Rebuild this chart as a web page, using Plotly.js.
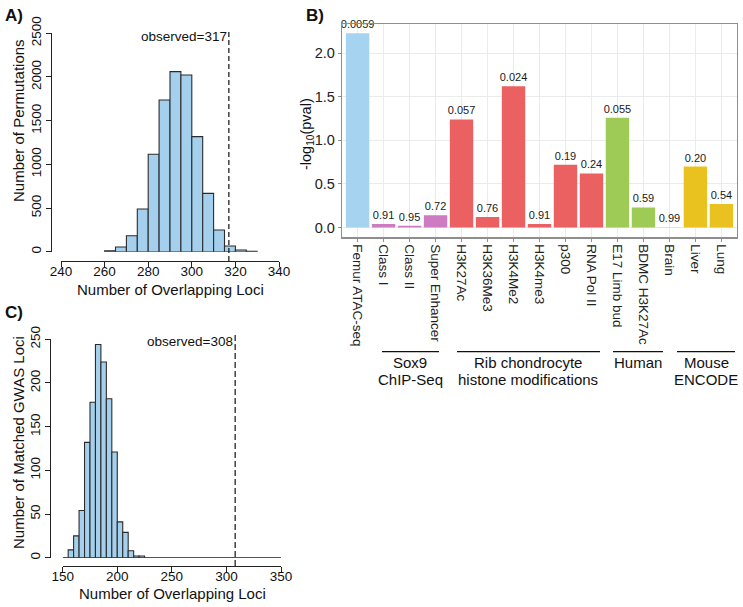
<!DOCTYPE html>
<html><head><meta charset="utf-8">
<script src="https://cdn.plot.ly/plotly-3.0.1.min.js"></script>
<style>html,body{margin:0;padding:0;background:#fff}#chart{width:743px;height:607px}</style>
</head><body><div id="chart"></div>
<script>
// ---------- Panel A data ----------
const binStartsA = [260,265,270,275,280,285,290,295,300,305,310,315,320,325];
const countsA    = [11,53,183,489,1115,1737,2061,2023,1317,668,248,65,19,4];
const binWidthA  = 5;
const observedA  = 317;
const xTicksA    = [240,260,280,300,320,340];
const yTicksA    = [0,500,1000,1500,2000,2500];

// ---------- Panel C data ----------
const binStartsC = [150,155,160,165,170,175,180,185,190,195,200,205,210,215,220,225,230,235,240,245,
                    250,255,260,265,270,275,280,285,290,295,300,305,310,315,320,325,330,335,340,345];
const countsC    = [0,9,25,54,132,178,244,224,182,121,41,29,8,2,2,0,0,0,0,0,
                    0,0,0,0,0,0,0,0,0,0,0,0,0,0,0,0,0,0,0,0];
const binWidthC  = 5;
const observedC  = 308;
const xTicksC    = [150,200,250,300,350];
const yTicksC    = [0,50,100,150,200,250];

// ---------- Panel B data ----------
const categoriesB = ['Femur ATAC-seq','Class I','Class II','Super Enhancer','H3K27Ac','H3K36Me3','H3K4Me2',
                     'H3K4me3','p300','RNA Pol II','E17 Limb bud','BDMC H3K27Ac','Brain','Liver','Lung'];
const negLog10P   = [2.23,0.04,0.02,0.14,1.24,0.12,1.62,0.04,0.72,0.62,1.26,0.23,0.004,0.70,0.27];
const pValLabels  = ['0.0059','0.91','0.95','0.72','0.057','0.76','0.024','0.91','0.19','0.24','0.055','0.59','0.99','0.20','0.54'];
const groupB      = ['Femur','Sox9','Sox9','Sox9','Rib','Rib','Rib','Rib','Rib','Rib','Human','Human','Mouse','Mouse','Mouse'];
const yTicksB     = [0,0.5,1,1.5,2];
const yTickTextB  = ['0.0','0.5','1.0','1.5','2.0'];

// ---------- styles / layout helpers ----------
const W = 743, H = 607;
const px = v => v / W;
const py = v => 1 - v / H;
const FONT = 'Liberation Sans, Arial, Helvetica, sans-serif';
const groupColors = {Femur:'#a5d3f0', Sox9:'#cd7bc2', Rib:'#eb6161', Human:'#9ecb56', Mouse:'#eac21f'};
const histFill = '#a4d0ed', histLine = '#2b2b2b', axisCol = '#222';
const bracketDefs = [
  {x0:382, x1:439, xc:410, lines:['Sox9','ChIP-Seq']},
  {x0:457, x1:600, xc:528, lines:['Rib chondrocyte','histone modifications']},
  {x0:613, x1:663, xc:638, lines:['Human']},
  {x0:677, x1:735, xc:706, lines:['Mouse','ENCODE']}
];
const bracketLineY = [362, 379.5];

const traces = [
  {type:'bar', x:binStartsA, y:countsA, width:binWidthA, offset:0, xaxis:'x', yaxis:'y',
   marker:{color:histFill, line:{color:histLine, width:1.1}}, hoverinfo:'skip'},
  {type:'bar', x:binStartsC, y:countsC, width:binWidthC, offset:0, xaxis:'x3', yaxis:'y3',
   marker:{color:histFill, line:{color:histLine, width:1.1}}, hoverinfo:'skip'},
  {type:'bar', x:categoriesB, y:negLog10P, width:0.9, xaxis:'x2', yaxis:'y2',
   marker:{color:groupB.map(g => groupColors[g])},
   text:pValLabels, textposition:'outside', constraintext:'none', cliponaxis:false,
   textfont:{size:11, color:'#1a1a1a', family:FONT}, hoverinfo:'skip'}
];

const baseAxis = {showgrid:false, zeroline:false, showline:true, linecolor:axisCol, linewidth:1,
                  ticks:'outside', ticklen:5, tickcolor:axisCol, tickwidth:1,
                  tickfont:{size:13.5, color:'#111', family:FONT}, fixedrange:true};

const bracketAnn = [];
bracketDefs.forEach(b => b.lines.forEach((t, i) => bracketAnn.push({
  text:t, xref:'paper', yref:'paper', x:px(b.xc), y:py(bracketLineY[i]),
  xanchor:'center', yanchor:'middle', showarrow:false, font:{size:15, color:'#111'}})));

const layout = {
  width:W, height:H, margin:{l:0,r:0,t:0,b:0}, paper_bgcolor:'#fff', plot_bgcolor:'rgba(0,0,0,0)',
  showlegend:false, font:{family:FONT, color:'#111'},
  xaxis: Object.assign({}, baseAxis, {domain:[px(61), px(279)], range:[240,340], anchor:'free',
          position:py(261), tickvals:xTicksA, ticklabelstandoff:-7}),
  yaxis: Object.assign({}, baseAxis, {domain:[py(251.7), py(33.3)], range:[0,2500], anchor:'free',
          position:px(51), tickvals:yTicksA, tickangle:-90}),
  xaxis3: Object.assign({}, baseAxis, {domain:[px(62.7), px(281)], range:[150,350], anchor:'free',
          position:py(565.7), tickvals:xTicksC, ticklabelstandoff:-7}),
  yaxis3: Object.assign({}, baseAxis, {domain:[py(557.7), py(339.3)], range:[0,250], anchor:'free',
          position:px(50), tickvals:yTicksC, tickangle:-90}),
  xaxis2: {type:'category', domain:[px(342), px(737)], range:[-0.6,14.6], anchor:'y2',
           showline:true, mirror:true, linecolor:'#8e8e8e', linewidth:1.2,
           ticks:'outside', ticklen:3, tickcolor:'#8e8e8e', tickangle:90,
           showgrid:true, gridcolor:'#ebebeb', gridwidth:1, zeroline:false,
           tickfont:{size:13.5, color:'#222', family:FONT}, fixedrange:true},
  yaxis2: {domain:[py(237.3), py(24)], range:[-0.112,2.335], anchor:'x2',
           showline:true, mirror:true, linecolor:'#8e8e8e', linewidth:1.2,
           ticks:'outside', ticklen:3, tickcolor:'#8e8e8e',
           tickvals:yTicksB, ticktext:yTickTextB,
           showgrid:true, gridcolor:'#ebebeb', gridwidth:1, zeroline:false,
           tickfont:{size:14.5, color:'#222', family:FONT}, fixedrange:true},
  shapes: [
    {type:'line', xref:'x', yref:'paper', x0:observedA, x1:observedA, y0:py(261), y1:py(29.5),
     line:{color:'#111', width:1.2, dash:'5px,3px'}},
    {type:'line', xref:'x3', yref:'paper', x0:observedC, x1:observedC, y0:py(566), y1:py(333),
     line:{color:'#111', width:1.2, dash:'6px,3px'}},
    {type:'line', xref:'x3', yref:'y3', x0:binStartsC[0], x1:binStartsC[binStartsC.length-1]+binWidthC,
     y0:0, y1:0, line:{color:histLine, width:1.1}}
  ].concat(bracketDefs.map(b => ({type:'line', xref:'paper', yref:'paper', x0:px(b.x0), x1:px(b.x1),
     y0:py(351.7), y1:py(351.7), line:{color:'#111', width:1.3}}))),
  annotations: [
    {text:'<b>A)</b>', xref:'paper', yref:'paper', x:px(3), y:py(15.5), xanchor:'left', yanchor:'middle', showarrow:false, font:{size:17}},
    {text:'<b>B)</b>', xref:'paper', yref:'paper', x:px(304), y:py(15), xanchor:'left', yanchor:'middle', showarrow:false, font:{size:17}},
    {text:'<b>C)</b>', xref:'paper', yref:'paper', x:px(3), y:py(312), xanchor:'left', yanchor:'middle', showarrow:false, font:{size:17}},
    {text:'Number of Permutations', xref:'paper', yref:'paper', x:px(18), y:py(121), textangle:-90, xanchor:'center', yanchor:'middle', showarrow:false, font:{size:15}},
    {text:'Number of Overlapping Loci', xref:'paper', yref:'paper', x:px(170), y:py(289), xanchor:'center', yanchor:'middle', showarrow:false, font:{size:15}},
    {text:'Number of Matched GWAS Loci', xref:'paper', yref:'paper', x:px(18), y:py(443), textangle:-90, xanchor:'center', yanchor:'middle', showarrow:false, font:{size:15}},
    {text:'Number of Overlapping Loci', xref:'paper', yref:'paper', x:px(172), y:py(593), xanchor:'center', yanchor:'middle', showarrow:false, font:{size:15}},
    {text:'observed=' + observedA, xref:'x', yref:'paper', x:observedA, y:py(37), xanchor:'right', yanchor:'middle', showarrow:false, font:{size:13.5}},
    {text:'observed=' + observedC, xref:'x3', yref:'paper', x:observedC, y:py(341.7), xanchor:'right', yanchor:'middle', showarrow:false, font:{size:13.5}},
    {text:'-log<sub>10</sub>(pval)', xref:'paper', yref:'paper', x:px(307), y:py(134), textangle:-90, xanchor:'center', yanchor:'middle', showarrow:false, font:{size:14.5, color:'#111'}}
  ].concat(bracketAnn)
};

Plotly.newPlot('chart', traces, layout, {staticPlot:true, displayModeBar:false});
</script>
</body></html>
